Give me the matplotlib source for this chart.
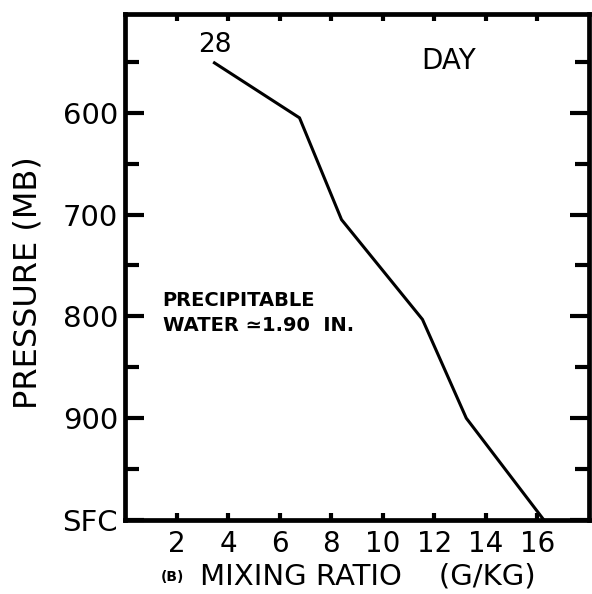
import matplotlib
matplotlib.use("Agg")
import matplotlib.pyplot as plt

# data (mixing ratio g/kg vs pressure mb)
mixing_ratio = [3.47, 6.77, 8.40, 11.54, 13.24, 16.25]
pressure = [551, 605, 705, 803, 900, 1000]

x_ticks = [2, 4, 6, 8, 10, 12, 14, 16]
x_labels = ["2", "4", "6", "8", "10", "12", "14", "16"]
y_major = [600, 700, 800, 900, 1000]
y_labels = ["600", "700", "800", "900", "SFC"]
y_minor = [550, 650, 750, 850, 950]

fig = plt.figure(figsize=(5.92, 5.94), dpi=100)
ax = fig.add_axes([125 / 592, 1 - 520 / 594, (589 - 125) / 592, (520 - 14) / 594])

ax.plot(mixing_ratio, pressure, color="black", linewidth=2.2, solid_joinstyle="miter")

ax.set_xlim(0, 18)
ax.set_ylim(1000, 503)

# spines on top of the tick marks so the SFC tick doesn't show along the bottom edge
for s in ax.spines.values():
    s.set_linewidth(3.4)
    s.set_zorder(3)

ax.set_xticks(x_ticks)
ax.set_xticklabels(x_labels, fontsize=20)
ax.set_yticks(y_major)
ax.set_yticklabels(y_labels, fontsize=21)
ax.set_yticks(y_minor, minor=True)

ax.tick_params(axis="x", which="major", direction="in", length=5, width=3,
               top=True, bottom=True, pad=7)
ax.tick_params(axis="y", which="major", direction="in", length=14, width=3,
               left=True, right=True, pad=5)
ax.tick_params(axis="y", which="minor", direction="in", length=10, width=3,
               left=True, right=True)

fig.text(28 / 592, 1 - 283 / 594, "PRESSURE (MB)", fontsize=23, rotation=90,
         ha="center", va="center")

ax.text(3.47, 533, "28", fontsize=19, ha="center", va="center")
ax.text(12.55, 549, "DAY", fontsize=20, ha="center", va="center")
ax.text(1.46, 784, "PRECIPITABLE", fontsize=14, fontweight="bold",
        ha="left", va="center")
ax.text(1.46, 809, "WATER \u22431.90  IN.", fontsize=14, fontweight="bold",
        ha="left", va="center")

fig.text(172 / 592, 1 - 577 / 594, "(B)", fontsize=10, fontweight="bold",
         ha="center", va="center")
fig.text(200 / 592, 1 - 577 / 594, "MIXING RATIO    (G/KG)", fontsize=21,
         ha="left", va="center")

fig.savefig("out.png", dpi=100)
